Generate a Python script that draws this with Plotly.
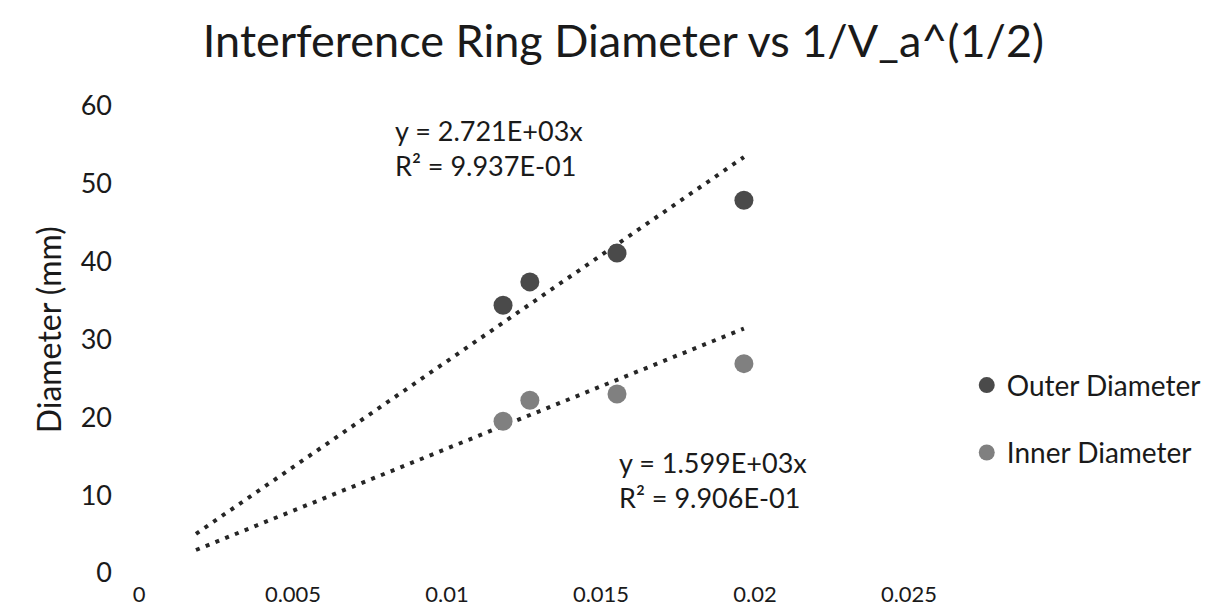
import plotly.graph_objects as go

# Data
inv_sqrt_va = [0.01182, 0.01269, 0.01552, 0.01964]
outer_diameter = [34.4, 37.4, 41.1, 47.9]
inner_diameter = [19.5, 22.2, 23.0, 26.9]

# Trendlines (through origin), as shown in the chart's equations
outer_slope = 2721.0
inner_slope = 1599.0
trend_x = [0.00185, 0.01964]

x_ticks = [0, 0.005, 0.01, 0.015, 0.02, 0.025]
x_tick_text = ["0", "0.005", "0.01", "0.015", "0.02", "0.025"]
y_ticks = [0, 10, 20, 30, 40, 50, 60]

FONT = "Lato"
TXT = "#1a1a1a"

fig = go.Figure()

fig.add_trace(go.Scatter(
    x=trend_x, y=[outer_slope * v for v in trend_x], mode="lines",
    line=dict(color="#262626", width=4, dash="4px,6.5px"),
    showlegend=False, hoverinfo="skip"))
fig.add_trace(go.Scatter(
    x=trend_x, y=[inner_slope * v for v in trend_x], mode="lines",
    line=dict(color="#262626", width=4, dash="4px,6.5px"),
    showlegend=False, hoverinfo="skip"))

fig.add_trace(go.Scatter(
    x=inv_sqrt_va, y=outer_diameter, mode="markers", name="Outer Diameter",
    legendgroup="outer",
    marker=dict(color="#4a4a4a", size=19, line=dict(width=0))))
fig.add_trace(go.Scatter(
    x=inv_sqrt_va, y=inner_diameter, mode="markers", name="Inner Diameter",
    legendgroup="inner",
    marker=dict(color="#808080", size=19, line=dict(width=0))))

fig.add_annotation(
    xref="paper", yref="paper", x=0.455, y=0.91,
    text="y = 2.721E+03x<br>R² = 9.937E-01", showarrow=False,
    align="left", xanchor="center", yanchor="middle",
    font=dict(family=FONT, size=27, color=TXT))
fig.add_annotation(
    xref="paper", yref="paper", x=0.745, y=0.20,
    text="y = 1.599E+03x<br>R² = 9.906E-01", showarrow=False,
    align="left", xanchor="center", yanchor="middle",
    font=dict(family=FONT, size=27, color=TXT))

fig.update_layout(
    width=1226, height=613,
    margin=dict(l=131, r=325, t=98, b=48, autoexpand=False),
    paper_bgcolor="white", plot_bgcolor="white",
    title=dict(text="Interference Ring Diameter vs 1/V_a^(1/2)",
               x=0.502, xanchor="center", xref="container",
               y=0.945, yanchor="middle", yref="container",
               font=dict(family=FONT, size=45, color=TXT)),
    font=dict(family=FONT, size=27, color=TXT),
    legend=dict(x=1.075, xanchor="left", y=0.33, yanchor="middle",
                font=dict(family=FONT, size=28, color=TXT),
                tracegroupgap=28, itemwidth=30, bgcolor="rgba(0,0,0,0)"),
    xaxis=dict(range=[0, 0.025], tickvals=x_ticks, ticktext=x_tick_text,
               showgrid=False, zeroline=False, showline=False,
               ticks="", ticklabelstandoff=6,
               tickfont=dict(family=FONT, size=22, color=TXT)),
    yaxis=dict(range=[0, 60], tickvals=y_ticks,
               showgrid=False, zeroline=False, showline=False,
               ticks="", ticklabelstandoff=26,
               tickfont=dict(family=FONT, size=27, color=TXT)),
)

fig.add_annotation(
    xref="paper", yref="paper", x=-0.118, y=0.52,
    text="Diameter (mm)", textangle=-90, showarrow=False,
    xanchor="center", yanchor="middle",
    font=dict(family=FONT, size=32, color=TXT))

fig.write_html("out.html")
